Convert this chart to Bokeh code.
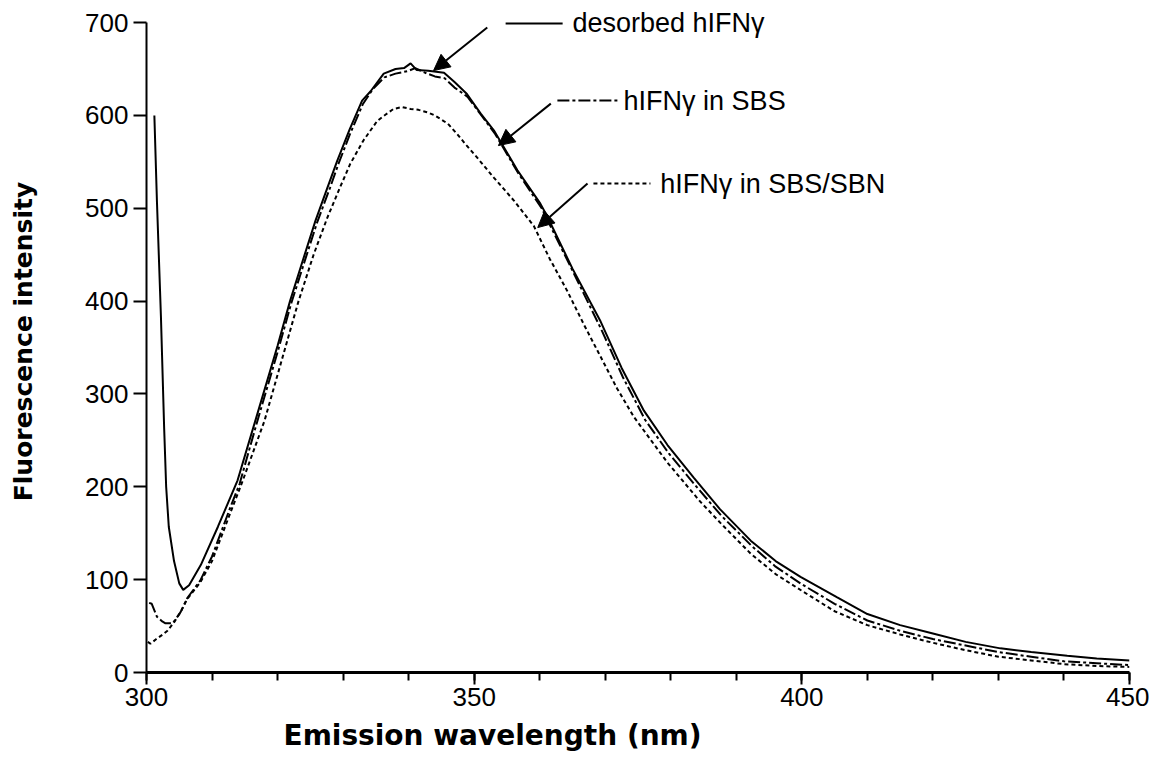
from bokeh.plotting import figure
from bokeh.models import Label, Arrow, NormalHead, Range1d, FixedTicker, Title
from bokeh.embed import file_html
from bokeh.resources import INLINE

# ---------------- data ----------------
desorbed_nm = [301.2, 301.6, 302.2, 302.7, 303.0, 303.4, 304.2, 305.0, 305.6, 306.5,
               308.3, 310.9, 313.9, 316.6, 320.0, 321.9, 323.5, 325.8, 327.5, 329.1,
               331.0, 332.9, 334.2, 336.2, 338.0, 339.3, 340.3, 341.2, 343.0, 345.4,
               347.0, 348.9, 351.0, 353.0, 356.6, 360.1, 361.1, 365.0, 369.3, 372.5,
               375.9, 379.5, 383.5, 387.5, 392.2, 396.0, 399.8, 405.4, 410.0, 415.0,
               420.0, 425.0, 430.3, 435.0, 440.5, 445.0, 450.0]
desorbed_int = [600, 506, 384, 262, 200, 157, 120, 96, 89, 94,
                116, 157, 207, 271, 352, 400, 436, 487, 520, 551,
                585, 616, 626, 645, 650, 651, 656, 649, 648, 646,
                636, 623, 602, 584, 541, 505, 492, 435, 378, 328,
                282, 245, 210, 176, 142, 120, 103, 81, 63, 51,
                42, 33, 26, 22, 18, 15, 13]

sbs_nm = [300.4, 300.8, 301.6, 302.4, 302.9, 304.0, 305.2, 306.2, 308.2, 310.0,
          312.8, 314.2, 316.8, 320.0, 322.1, 324.0, 326.0, 328.0, 329.3, 331.0,
          333.0, 334.5, 336.3, 338.0, 340.0, 341.0, 342.5, 344.0, 345.5, 347.0,
          349.0, 351.0, 353.2, 356.8, 360.3, 365.2, 369.5, 372.7, 376.1, 379.7,
          383.7, 387.7, 392.4, 396.0, 400.0, 405.0, 410.0, 415.0, 420.0, 425.0,
          430.0, 435.0, 440.0, 445.0, 450.0]
sbs_int = [75, 74, 60, 55, 53, 53, 65, 80, 99, 125,
           178, 203, 268, 345, 398, 440, 484, 522, 548, 579,
           612, 628, 641, 645, 648, 651, 646, 642, 640, 630,
           620, 601, 580, 537, 500, 430, 368, 318, 272, 236,
           202, 169, 136, 114, 95, 74, 56, 45, 36, 29,
           22, 17, 12, 10, 8]

sbn_nm = [300.2, 300.6, 301.5, 302.5, 303.2, 304.2, 305.2, 306.2, 308.2, 310.0,
          312.8, 314.6, 318.0, 320.5, 323.2, 325.5, 327.6, 329.5, 331.1, 333.1,
          335.2, 336.5, 337.7, 339.0, 340.3, 341.5, 343.0, 344.0, 344.9, 346.0,
          347.4, 348.8, 350.4, 353.0, 356.1, 359.1, 361.5, 364.2, 366.8, 369.3,
          371.8, 374.4, 377.0, 379.5, 384.5, 388.0, 392.2, 396.0, 400.0, 405.0,
          410.0, 415.0, 420.0, 425.0, 430.0, 435.0, 440.0, 445.0, 450.0]
sbn_int = [33, 31, 36, 41, 45, 54, 65, 79, 97, 120,
           172, 205, 271, 333, 400, 450, 490, 522, 548, 573,
           594, 601, 607, 609, 607, 606, 603, 600, 596, 591,
           580, 568, 555, 533, 508, 481, 446, 411, 374, 340,
           306, 275, 250, 226, 184, 158, 128, 106, 88, 66,
           51, 41, 32, 24, 17, 13, 9, 7, 6]

series_names = ["desorbed hIFN\u03b3", "hIFN\u03b3 in SBS", "hIFN\u03b3 in SBS/SBN"]
x_ticks = [300, 350, 400, 450]
y_ticks = [0, 100, 200, 300, 400, 500, 600, 700]
x_title = "Emission wavelength (nm)"
y_title = "Fluorescence intensity"

# ---------------- styling / layout ----------------
FONT = "Liberation Sans"
TITLE_FONT = "DejaVu Sans"
dashes = ["solid", "12 3 3 3", "4 3"]

# annotation anchors (data units): key line x0, x1, y ; text x ; arrow start -> tip
key_lines = [(354.8, 363.5, 699.0), (362.7, 372.0, 616.0), (368.2, 376.9, 526.6)]
key_text_x = [365.0, 372.8, 378.4]
arrows = [((352.0, 694.6), (343.8, 648.3)),
          ((361.7, 612.7), (353.7, 567.5)),
          ((367.3, 526.6), (359.7, 479.2))]

p = figure(frame_width=983, frame_height=662,
           x_range=Range1d(300, 450), y_range=Range1d(0, 713),
           output_backend="svg", toolbar_location=None,
           min_border_left=146, min_border_top=10, min_border_right=20, min_border_bottom=12)

p.outline_line_color = None
p.grid.visible = False
p.background_fill_color = "white"
p.border_fill_color = "white"

for xs, ys, dash in zip([desorbed_nm, sbs_nm, sbn_nm], [desorbed_int, sbs_int, sbn_int], dashes):
    p.line(xs, ys, line_color="black", line_width=2, line_dash=dash)

# axes
xa = p.xaxis[0]
xa.ticker = FixedTicker(ticks=x_ticks, minor_ticks=list(range(300, 451, 10)))
xa.bounds = (300, 450)
xa.axis_line_width = 3
xa.major_tick_line_width = 2
xa.minor_tick_line_width = 2
xa.major_tick_in = 0
xa.major_tick_out = 12
xa.minor_tick_in = 0
xa.minor_tick_out = 8
xa.major_label_standoff = 3
xa.major_label_text_font = FONT
xa.major_label_text_font_size = "26px"
xa.major_label_text_color = "black"

ya = p.yaxis[0]
ya.ticker = FixedTicker(ticks=y_ticks, minor_ticks=[])
ya.bounds = (0, 700)
ya.axis_line_width = 2
ya.major_tick_line_width = 2
ya.major_tick_in = 0
ya.major_tick_out = 13
ya.minor_tick_out = 0
ya.minor_tick_in = 0
ya.major_label_standoff = 5
ya.major_label_text_font = FONT
ya.major_label_text_font_size = "26px"
ya.major_label_text_color = "black"
ya.axis_label = y_title
ya.axis_label_text_font = TITLE_FONT
ya.axis_label_text_font_style = "bold"
ya.axis_label_text_font_size = "25px"
ya.axis_label_text_color = "black"
ya.axis_label_standoff = 44

# x title: the reference places it left of centre, so use a below-title with an offset
p.add_layout(Title(text=x_title, align="left", offset=137, standoff=16,
                   text_font=TITLE_FONT, text_font_style="bold", text_font_size="28px",
                   text_color="black"), "below")

# in-plot key: short line sample + text + arrow to each curve
for (x0, x1, yk), tx, name, dash, ((ax0, ay0), (ax1, ay1)) in zip(key_lines, key_text_x, series_names, dashes, arrows):
    p.line([x0, x1], [yk, yk], line_color="black", line_width=2, line_dash=dash)
    p.add_layout(Label(x=tx, y=yk, text=name, text_font=FONT, text_font_size="27px",
                       text_baseline="middle", text_align="left", text_color="black"))
    p.add_layout(Arrow(x_start=ax0, y_start=ay0, x_end=ax1, y_end=ay1, line_width=2,
                       line_color="black",
                       end=NormalHead(size=16, fill_color="black", line_color="black")))

open("out.html", "w").write(file_html(p, INLINE))
